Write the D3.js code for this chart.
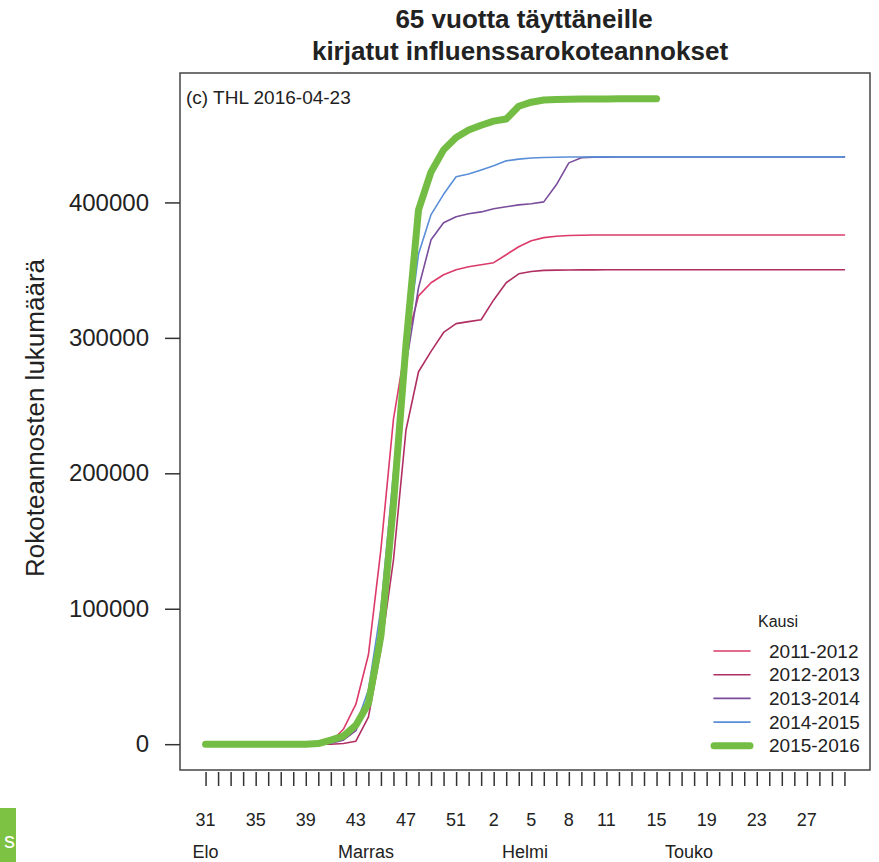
<!DOCTYPE html>
<html>
<head>
<meta charset="utf-8">
<script src="https://cdn.jsdelivr.net/npm/d3@7"></script>
<style>
  body { margin: 0; background: #fff; }
  svg { display: block; font-family: "Liberation Sans", Arial, sans-serif; }
  .lbl { fill: #222; }
</style>
</head>
<body>
<svg id="chart" width="879" height="862"></svg>
<script>
// week labels on the x axis (index = weeks since week 31)
const weekTicks = [0, 4, 8, 12, 16, 20, 23, 26, 29, 32, 36, 40, 44, 48];
const weekLabels = ["31", "35", "39", "43", "47", "51", "2", "5", "8", "11", "15", "19", "23", "27"];
const monthPos = [0, 12.8, 25.5, 38.6];
const monthLabels = ["Elo", "Marras", "Helmi", "Touko"];
const nWeeks = 52;

const seasons = ["2011-2012", "2012-2013", "2013-2014", "2014-2015", "2015-2016"];
const colors = ["#dc3a6a", "#b02f62", "#7a4d9c", "#5a8fd8", "#74bd44"];
const widths = [1.6, 1.6, 1.6, 1.6, 7];

// cumulative doses per week
const s2011 = [0, 0, 0, 0, 0, 0, 0, 0, 0, 300, 1500, 11000, 29500, 66000, 144000, 240000, 296000, 331000,
  340700, 346600, 350300, 352500, 354000, 355500, 361400, 367300, 371700, 374000, 375000, 375600, 375800,
  375900, 376000, 376000, 376000, 376000, 376000, 376000, 376000, 376000, 376000, 376000, 376000, 376000,
  376000, 376000, 376000, 376000, 376000, 376000, 376000, 376000];
const s2012 = [0, 0, 0, 0, 0, 0, 0, 0, 0, 0, 0, 500, 2200, 20000, 70000, 136000, 232000, 275000, 290000,
  304000, 310500, 312000, 313400, 328000, 340700, 347300, 349000, 349800, 350000, 350100, 350200, 350200,
  350300, 350300, 350300, 350300, 350300, 350300, 350300, 350300, 350300, 350300, 350300, 350300, 350300,
  350300, 350300, 350300, 350300, 350300, 350300, 350300];
const s2013 = [0, 0, 0, 0, 0, 0, 0, 0, 0, 0, 800, 3000, 10000, 32000, 90000, 185000, 280000, 337000, 372400,
  385000, 389400, 391600, 393000, 395300, 396800, 398200, 399000, 400400, 413000, 429200, 433000, 433300,
  433400, 433500, 433500, 433600, 433600, 433600, 433600, 433600, 433600, 433600, 433600, 433600, 433600,
  433600, 433600, 433600, 433600, 433600, 433600, 433600];
const s2014 = [0, 0, 0, 0, 0, 0, 0, 0, 0, 0, 1000, 4000, 14000, 40000, 100000, 200000, 290000, 362000,
  391000, 406000, 419000, 421000, 424000, 427000, 430700, 432000, 432800, 433200, 433400, 433500, 433500,
  433600, 433600, 433600, 433600, 433600, 433600, 433600, 433600, 433600, 433600, 433600, 433600, 433600,
  433600, 433600, 433600, 433600, 433600, 433600, 433600, 433600];
const s2015 = [0, 0, 0, 0, 0, 0, 0, 0, 0, 500, 3000, 6000, 14000, 30000, 80000, 177000, 295000, 394500,
  422500, 438800, 448000, 453500, 457000, 460000, 461600, 471000, 474000, 475600, 476000, 476200, 476300,
  476400, 476400, 476500, 476500, 476500, 476500];

const series = [s2011, s2012, s2013, s2014, s2015];

var svg = d3.select("#chart"),
  box = { left: 180, right: 870, top: 73, bottom: 770 };

// R style axes: 4% padding around data range
var yMax = d3.max(series, function(s) { return d3.max(s); });
var x = d3.scaleLinear()
  .domain([-0.04 * (nWeeks - 1), 1.04 * (nWeeks - 1)])
  .range([box.left, box.right]);
var y = d3.scaleLinear()
  .domain([-0.04 * yMax, 1.04 * yMax])
  .range([box.bottom, box.top]);

// title
svg.append("text")
  .attr("class", "lbl")
  .attr("x", 524)
  .attr("y", 28)
  .attr("text-anchor", "middle")
  .attr("font-size", 26)
  .attr("font-weight", "bold")
  .text("65 vuotta täyttäneille");
svg.append("text")
  .attr("class", "lbl")
  .attr("x", 520)
  .attr("y", 60)
  .attr("text-anchor", "middle")
  .attr("font-size", 26)
  .attr("font-weight", "bold")
  .text("kirjatut influenssarokoteannokset");

// lines
var line = d3.line()
  .x(function(d, i) { return x(i); })
  .y(function(d) { return y(d); });

svg.append("g")
  .selectAll("path")
  .data(series)
  .enter()
  .append("path")
  .attr("d", line)
  .attr("fill", "none")
  .attr("stroke", function(d, i) { return colors[i]; })
  .attr("stroke-width", function(d, i) { return widths[i]; })
  .attr("stroke-linejoin", "round")
  .attr("stroke-linecap", "round");

// plot box
svg.append("rect")
  .attr("x", box.left)
  .attr("y", box.top)
  .attr("width", box.right - box.left)
  .attr("height", box.bottom - box.top)
  .attr("fill", "none")
  .attr("stroke", "#444")
  .attr("stroke-width", 1.5);

// y axis
var yAxis = svg.append("g")
  .attr("transform", "translate(" + box.left + ",0)")
  .call(d3.axisLeft(y).tickValues([0, 100000, 200000, 300000, 400000]).tickFormat(d3.format("d"))
    .tickSize(15).tickPadding(16));
yAxis.select(".domain").remove();
yAxis.selectAll(".tick line").attr("stroke", "#333").attr("stroke-width", 1.5);
yAxis.selectAll("text")
  .attr("font-size", 24)
  .attr("font-family", "Liberation Sans, Arial, sans-serif")
  .attr("fill", "#222");

svg.append("text")
  .attr("class", "lbl")
  .attr("transform", "translate(44,418) rotate(-90)")
  .attr("text-anchor", "middle")
  .attr("font-size", 26)
  .text("Rokoteannosten lukumäärä");

// x axis: weekly ticks hanging below the box
var xAxis = svg.append("g")
  .attr("transform", "translate(0," + (box.bottom + 2) + ")")
  .call(d3.axisBottom(x).tickValues(d3.range(nWeeks)).tickFormat("").tickSize(14));
xAxis.select(".domain").remove();
xAxis.selectAll(".tick line").attr("stroke", "#333").attr("stroke-width", 1.5);

svg.append("g")
  .selectAll("text")
  .data(weekTicks)
  .enter()
  .append("text")
  .attr("class", "lbl")
  .attr("x", function(d) { return x(d); })
  .attr("y", 826)
  .attr("text-anchor", "middle")
  .attr("font-size", 18)
  .text(function(d, i) { return weekLabels[i]; });

svg.append("g")
  .selectAll("text")
  .data(monthPos)
  .enter()
  .append("text")
  .attr("class", "lbl")
  .attr("x", function(d) { return x(d); })
  .attr("y", 858)
  .attr("text-anchor", "middle")
  .attr("font-size", 18)
  .text(function(d, i) { return monthLabels[i]; });

// copyright note
svg.append("text")
  .attr("class", "lbl")
  .attr("x", 186)
  .attr("y", 104)
  .attr("font-size", 19)
  .text("(c) THL 2016-04-23");

// legend
svg.append("text")
  .attr("class", "lbl")
  .attr("x", 778)
  .attr("y", 627)
  .attr("text-anchor", "middle")
  .attr("font-size", 16)
  .text("Kausi");

var legend = svg.append("g")
  .selectAll("g")
  .data(seasons)
  .enter()
  .append("g")
  .attr("transform", function(d, i) {
    return "translate(0," + (651 + i * 23.7) + ")";
  });

legend.append("line")
  .attr("x1", 714)
  .attr("x2", 750)
  .attr("stroke", function(d, i) { return colors[i]; })
  .attr("stroke-width", function(d, i) { return widths[i]; })
  .attr("stroke-linecap", "round");

legend.append("text")
  .attr("class", "lbl")
  .attr("x", 769)
  .attr("dy", "0.35em")
  .attr("font-size", 19)
  .text(function(d) { return d; });

// cropped page button in the corner
svg.append("rect")
  .attr("x", -40)
  .attr("y", 808)
  .attr("width", 56)
  .attr("height", 60)
  .attr("fill", "#7dc242");
svg.append("text")
  .attr("x", 15)
  .attr("y", 848)
  .attr("text-anchor", "end")
  .attr("font-size", 22)
  .attr("fill", "#fff")
  .text("s");
</script>
</body>
</html>
